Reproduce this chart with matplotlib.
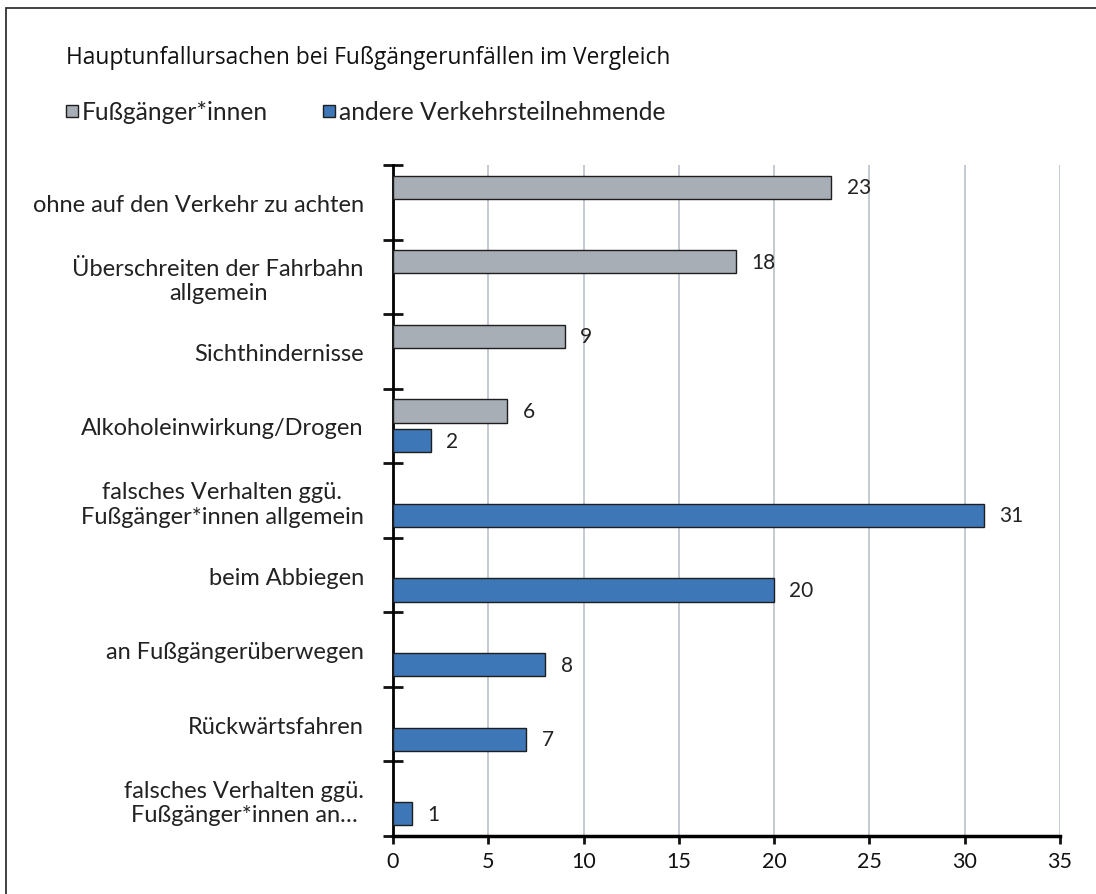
import numpy as np
import matplotlib
matplotlib.use("Agg")
import matplotlib.pyplot as plt
from matplotlib.patches import Rectangle

plt.rcParams["font.family"] = ["Lato", "DejaVu Sans"]

# data (top to bottom)
categories = [
    "ohne auf den Verkehr zu achten",
    "Überschreiten der Fahrbahn\nallgemein",
    "Sichthindernisse",
    "Alkoholeinwirkung/Drogen",
    "falsches Verhalten ggü.\nFußgänger*innen allgemein",
    "beim Abbiegen",
    "an Fußgängerüberwegen",
    "Rückwärtsfahren",
    "falsches Verhalten ggü.\nFußgänger*innen an…",
]
fussgaenger = [23, 18, 9, 6, np.nan, np.nan, np.nan, np.nan, np.nan]
andere = [np.nan, np.nan, np.nan, 2, 31, 20, 8, 7, 1]
series_names = ["Fußgänger*innen", "andere Verkehrsteilnehmende"]
xticks = [0, 5, 10, 15, 20, 25, 30, 35]

GREY = "#A7AEB6"
BLUE = "#3D77B7"
EDGE = "#1E1E1E"

fig = plt.figure(figsize=(10.96, 8.95), dpi=100)
ax = fig.add_axes([393 / 1096, 1 - 837 / 895, (1060 - 393) / 1096, (837 - 166) / 895])

y = np.arange(len(categories))
h = 0.31
off = 0.20
ax.barh(y - off, fussgaenger, height=h, color=GREY, edgecolor=EDGE, linewidth=1.0, zorder=3)
ax.barh(y + off, andere, height=h, color=BLUE, edgecolor=EDGE, linewidth=1.0, zorder=3)

for ys, vals in ((y - off, fussgaenger), (y + off, andere)):
    for yy, v in zip(ys, vals):
        if not np.isnan(v):
            ax.text(v + 0.8, yy, f"{v:g}", va="center", ha="left", fontsize=15, color="#222222")

ax.set_xlim(0, 35)
ax.set_ylim(len(categories) - 0.5, -0.5)
ax.set_xticks(xticks)
ax.tick_params(axis="x", direction="out", length=6, width=2, labelsize=15.5, pad=5, colors="#111111")
ax.xaxis.grid(True, color="#BFC6CF", linewidth=1.3, zorder=0)
ax.set_axisbelow(True)

# category labels sit between the boundary ticks
ax.set_yticks(np.arange(len(categories) + 1) - 0.5)
ax.set_yticklabels([])
ax.set_yticks(y, minor=True)
ax.set_yticklabels(categories, minor=True, fontsize=17, multialignment="center", color="#222222")
ax.tick_params(axis="y", which="major", direction="inout", length=15, width=2, colors="#111111")
ax.tick_params(axis="y", which="minor", length=0, pad=21)

for s in ("top", "right"):
    ax.spines[s].set_visible(False)
ax.spines["left"].set_linewidth(2)
ax.spines["bottom"].set_linewidth(2.5)

fig.text(66 / 1096, 1 - 58 / 895, "Hauptunfallursachen bei Fußgängerunfällen im Vergleich",
         fontsize=16.4, va="center", ha="left", family=["Open Sans", "DejaVu Sans"], color="#111111")

# legend, drawn by hand like Excel
leg_y = 1 - 112 / 895
for xpos, col, name in ((66, GREY, series_names[0]), (323, BLUE, series_names[1])):
    fig.patches.append(Rectangle((xpos / 1096, leg_y - 6 / 895), 12 / 1096, 12 / 895,
                                 transform=fig.transFigure, facecolor=col, edgecolor=EDGE, linewidth=1))
    fig.text((xpos + 16) / 1096, leg_y, name, fontsize=17.7, va="center", ha="left", color="#222222")

# chart border
fig.patches.append(Rectangle((6 / 1096, -0.01), 1.02, 1 - 9 / 895 + 0.01, transform=fig.transFigure,
                             fill=False, edgecolor="#333333", linewidth=1.3))

fig.savefig("out.png", dpi=100)
